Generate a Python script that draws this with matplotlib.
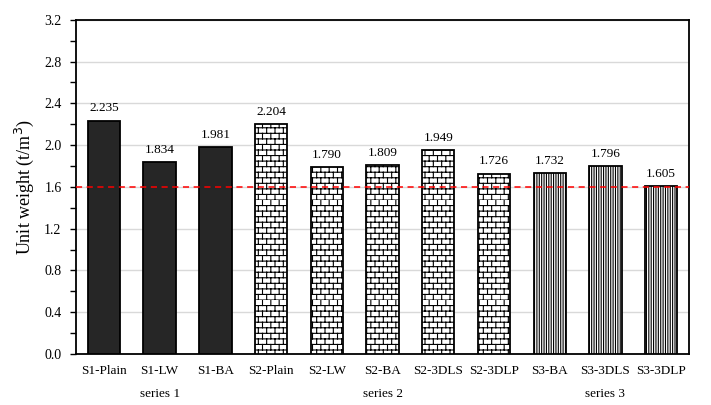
"""Unit weight of the mixes, grouped by series, with the 1.6 t/m3 limit line."""

import warnings

import matplotlib

matplotlib.use("Agg")
import matplotlib.hatch as mhatch
import matplotlib.pyplot as plt
import numpy as np
from matplotlib.path import Path
from matplotlib.ticker import MultipleLocator
from matplotlib.transforms import blended_transform_factory

warnings.filterwarnings("ignore")

plt.rcParams["font.family"] = ["Liberation Serif", "DejaVu Serif"]
plt.rcParams["hatch.linewidth"] = 0.8


class BrickHatch(mhatch.HatchPatternBase):
    """Staggered brick pattern, switched on by 'b' in the hatch string."""

    ROWS = 18
    COLS = 12

    def __init__(self, hatch, density):
        self.on = "b" in hatch
        n = self.ROWS + self.ROWS * self.COLS
        self.num_lines = n if self.on else 0
        self.num_vertices = 2 * n if self.on else 0

    def set_vertices_and_codes(self, vertices, codes):
        verts = []
        for r in range(self.ROWS):
            y0 = r / self.ROWS
            y1 = (r + 1) / self.ROWS
            verts += [(0, y0), (1, y0)]
            off = 0.5 / self.COLS if r % 2 else 0.0
            for c in range(self.COLS):
                x = c / self.COLS + off
                verts += [(x, y0), (x, y1)]
        vertices[:] = verts
        codes[0::2] = Path.MOVETO
        codes[1::2] = Path.LINETO


mhatch._hatch_types.append(BrickHatch)

# --- data ---
labels = ["S1-Plain", "S1-LW", "S1-BA", "S2-Plain", "S2-LW", "S2-BA",
          "S2-3DLS", "S2-3DLP", "S3-BA", "S3-3DLS", "S3-3DLP"]
values = [2.235, 1.834, 1.981, 2.204, 1.790, 1.809, 1.949, 1.726,
          1.732, 1.796, 1.605]
series = [1, 1, 1, 2, 2, 2, 2, 2, 3, 3, 3]
series_names = ["series 1", "series 2", "series 3"]
limit = 1.6

STYLE = {
    1: dict(color="#262626", hatch=None),
    2: dict(color="white", hatch="b"),
    3: dict(color="white", hatch="|" * 7),
}

fig = plt.figure(figsize=(7.11, 4.05), dpi=100)
ax = fig.add_axes([0.107, 0.126, 0.862, 0.825])

x = np.arange(len(labels))
for xi, v, s in zip(x, values, series):
    st = STYLE[s]
    ax.bar(xi, v, width=0.58, color=st["color"], hatch=st["hatch"],
           edgecolor="black", linewidth=1.3, zorder=3)
    ax.text(xi, v + 0.06, f"{v:.3f}", ha="center", va="bottom",
            fontsize=9.5, zorder=5)

ax.axhline(limit, color="#ff0000", linestyle=(0, (4, 3)), linewidth=1.1,
           zorder=4)

ax.set_xlim(-0.5, len(labels) - 0.5)
ax.set_ylim(0, 3.2)
ax.yaxis.set_major_locator(MultipleLocator(0.4))
ax.yaxis.set_minor_locator(MultipleLocator(0.2))
ax.yaxis.set_major_formatter(lambda v, p: f"{v:.1f}")
ax.grid(axis="y", which="major", color="#d9d9d9", linewidth=1.0, zorder=0)
ax.set_axisbelow(True)

ax.set_xticks(x)
ax.set_xticklabels(labels, fontsize=9.5)
ax.tick_params(axis="x", length=0, pad=8)
ax.tick_params(axis="y", which="both", direction="out", length=4.5,
               width=1.0, labelsize=10, pad=6)
ax.set_ylabel("Unit weight (t/m$^3$)", fontsize=13, labelpad=6)

for sp in ax.spines.values():
    sp.set_linewidth(1.3)
    sp.set_color("black")

trans = blended_transform_factory(ax.transData, ax.transAxes)
for k, name in enumerate(series_names, start=1):
    idx = [i for i, s in enumerate(series) if s == k]
    ax.text(np.mean(idx), -0.12, name, transform=trans, ha="center",
            va="center", fontsize=9.5)

fig.savefig("out.png", dpi=100)
